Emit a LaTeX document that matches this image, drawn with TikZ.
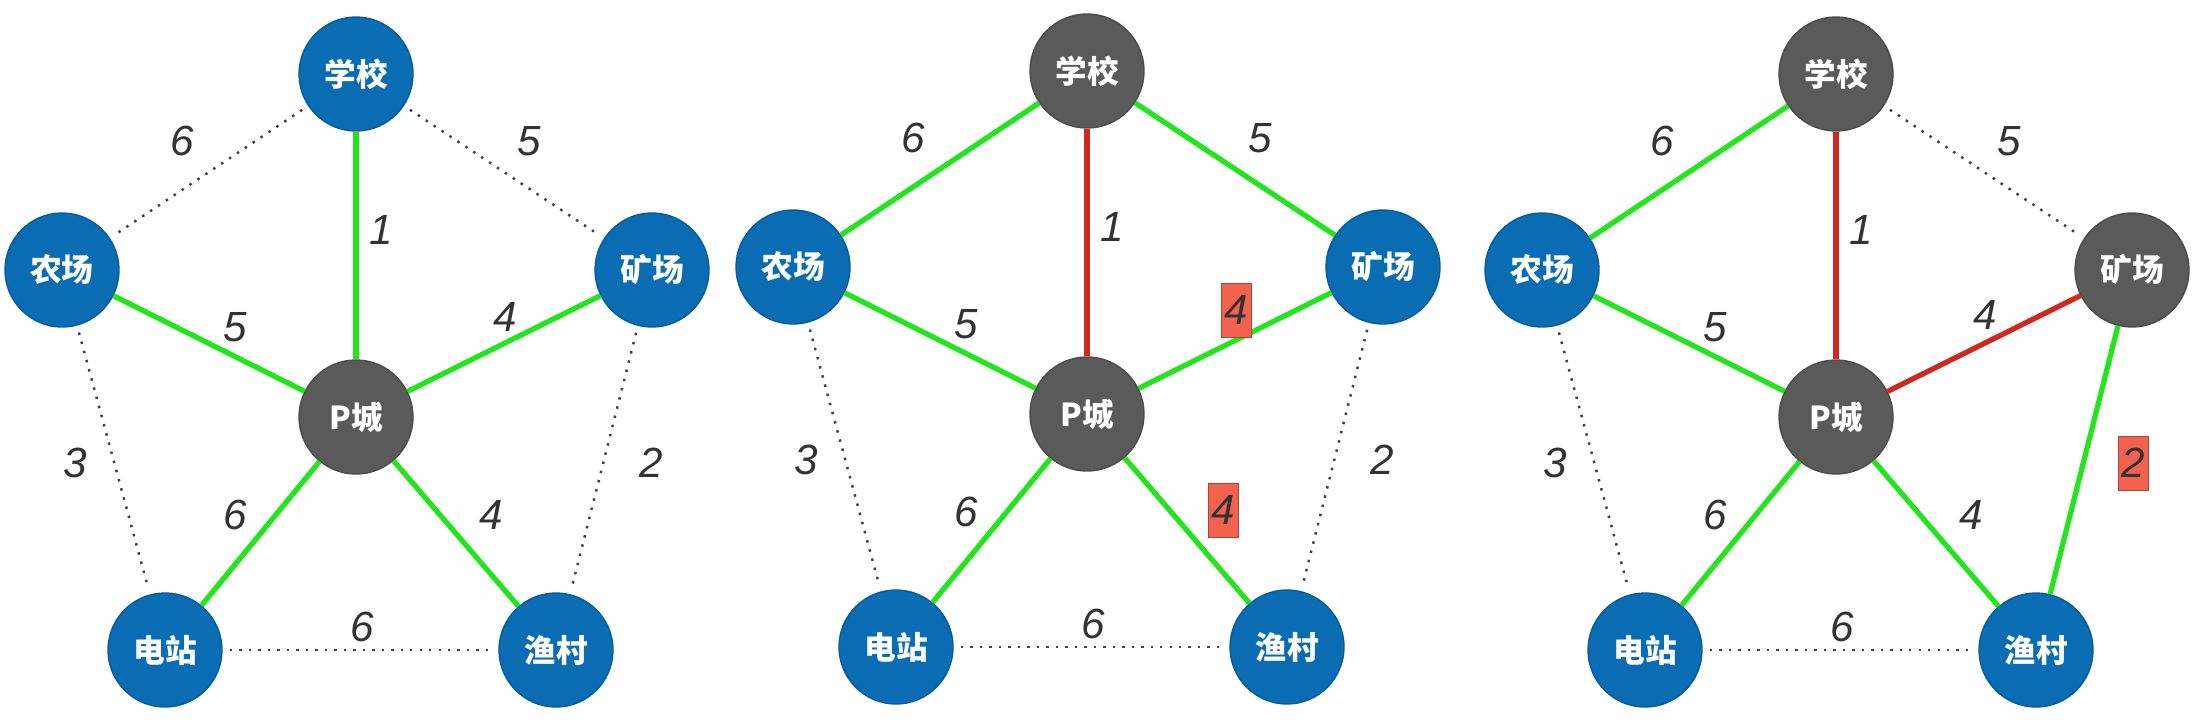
\documentclass[tikz,border=0pt]{standalone}
\usepackage{fontspec}
\newfontfamily\cjk{Noto Sans CJK SC}
\newfontfamily\numfont{Liberation Sans}
\definecolor{townblue}{HTML}{0A6DB3}
\definecolor{reachgray}{HTML}{5A5A5A}
\definecolor{mstgreen}{HTML}{22E51E}
\definecolor{cutred}{HTML}{D0281C}
\definecolor{pickred}{HTML}{F2624F}
\tikzset{
    town/.style = {circle, fill=townblue, draw=townblue!85!black, thin, minimum size=1.14cm, inner sep=0pt, text=white, font=\cjk\bfseries\fontsize{9}{11}\selectfont},
    reached/.style = {fill=reachgray, draw=reachgray!85!black},
    school/.style = {},
    mine/.style = {},
    greenedge/.style = {draw=mstgreen, line width=1.5pt},
    redge/.style = {draw=cutred, line width=1.5pt},
    dotedge/.style = {draw=black!75, dotted, line width=0.7pt, shorten <=2pt, shorten >=2pt},
    weight/.style = {text=black!80, font=\numfont\itshape\fontsize{12}{14}\selectfont, inner sep=1pt},
    pickbox/.style = {weight, fill=pickred, draw=pickred!70!black, very thin, minimum width=0.3cm, minimum height=0.54cm, inner sep=0pt},
}
% the six towns of one panel, #1 = name prefix
\newcommand{\towns}[1]{%
    \node[town, reached] (#1city)    at (0,0)         {P城};
    \node[town, school]  (#1school)  at (0,3.43)      {学校};
    \node[town]          (#1farm)    at (-2.94,1.47)  {农场};
    \node[town, mine]    (#1mine)    at (2.96,1.47)   {矿场};
    \node[town]          (#1plant)   at (-1.91,-2.33) {电站};
    \node[town]          (#1village) at (2.0,-2.33)   {渔村};
}

\begin{document}
\begin{tikzpicture}
\useasboundingbox (0,0) rectangle (22,-7.27);

% panel 1
\begin{scope}[shift={(3.56,-4.17)}]
\towns{a}
\draw[greenedge] (acity) -- (aschool);
\draw[greenedge] (acity) -- (afarm);
\draw[greenedge] (acity) -- (amine);
\draw[greenedge] (acity) -- (aplant);
\draw[greenedge] (acity) -- (avillage);
\draw[dotedge] (aschool) -- (afarm);
\draw[dotedge] (aschool) -- (amine);
\draw[dotedge] (afarm) -- (aplant);
\draw[dotedge] (amine) -- (avillage);
\draw[dotedge] (aplant) -- (avillage);
\foreach \p/\w [count=\i] in {(-1.74,2.76)/6, (1.73,2.76)/5, (0.25,1.87)/1, (-1.21,0.90)/5, (1.49,1.0)/4,
    (-2.81,-0.46)/3, (2.95,-0.46)/2, (-1.21,-0.98)/6, (1.35,-0.98)/4, (0.06,-2.10)/6}
    \node[weight] (aw\i) at \p {\w};
\end{scope}

% panel 2
\begin{scope}[shift={(10.87,-4.14)}, school/.style={reached}]
\towns{b}
\draw[redge] (bcity) -- (bschool);
\draw[greenedge] (bschool) -- (bfarm);
\draw[greenedge] (bschool) -- (bmine);
\draw[greenedge] (bcity) -- (bfarm);
\draw[greenedge] (bcity) -- (bmine);
\draw[greenedge] (bcity) -- (bplant);
\draw[greenedge] (bcity) -- (bvillage);
\draw[dotedge] (bfarm) -- (bplant);
\draw[dotedge] (bmine) -- (bvillage);
\draw[dotedge] (bplant) -- (bvillage);
\foreach \p/\w [count=\i] in {(-1.74,2.76)/6, (1.73,2.76)/5, (0.25,1.87)/1, (-1.21,0.90)/5,
    (-2.81,-0.46)/3, (2.95,-0.46)/2, (-1.21,-0.98)/6, (0.06,-2.10)/6}
    \node[weight] (bw\i) at \p {\w};
\node[pickbox] (bpick1) at (1.49,1.04) {4};
\node[pickbox] (bpick2) at (1.36,-0.96) {4};
\end{scope}

% panel 3
\begin{scope}[shift={(18.36,-4.17)}, school/.style={reached}, mine/.style={reached}]
\towns{c}
\draw[redge] (ccity) -- (cschool);
\draw[redge] (ccity) -- (cmine);
\draw[greenedge] (cschool) -- (cfarm);
\draw[greenedge] (ccity) -- (cfarm);
\draw[greenedge] (ccity) -- (cplant);
\draw[greenedge] (ccity) -- (cvillage);
\draw[greenedge] (cmine) -- (cvillage);
\draw[dotedge] (cschool) -- (cmine);
\draw[dotedge] (cfarm) -- (cplant);
\draw[dotedge] (cplant) -- (cvillage);
\foreach \p/\w [count=\i] in {(-1.74,2.76)/6, (1.73,2.76)/5, (0.25,1.87)/1, (-1.21,0.90)/5, (1.49,1.02)/4,
    (-2.81,-0.46)/3, (-1.21,-0.98)/6, (1.35,-0.98)/4, (0.06,-2.10)/6}
    \node[weight] (cw\i) at \p {\w};
\node[pickbox] (cpick) at (2.97,-0.46) {2};
\end{scope}
\end{tikzpicture}
\end{document}
